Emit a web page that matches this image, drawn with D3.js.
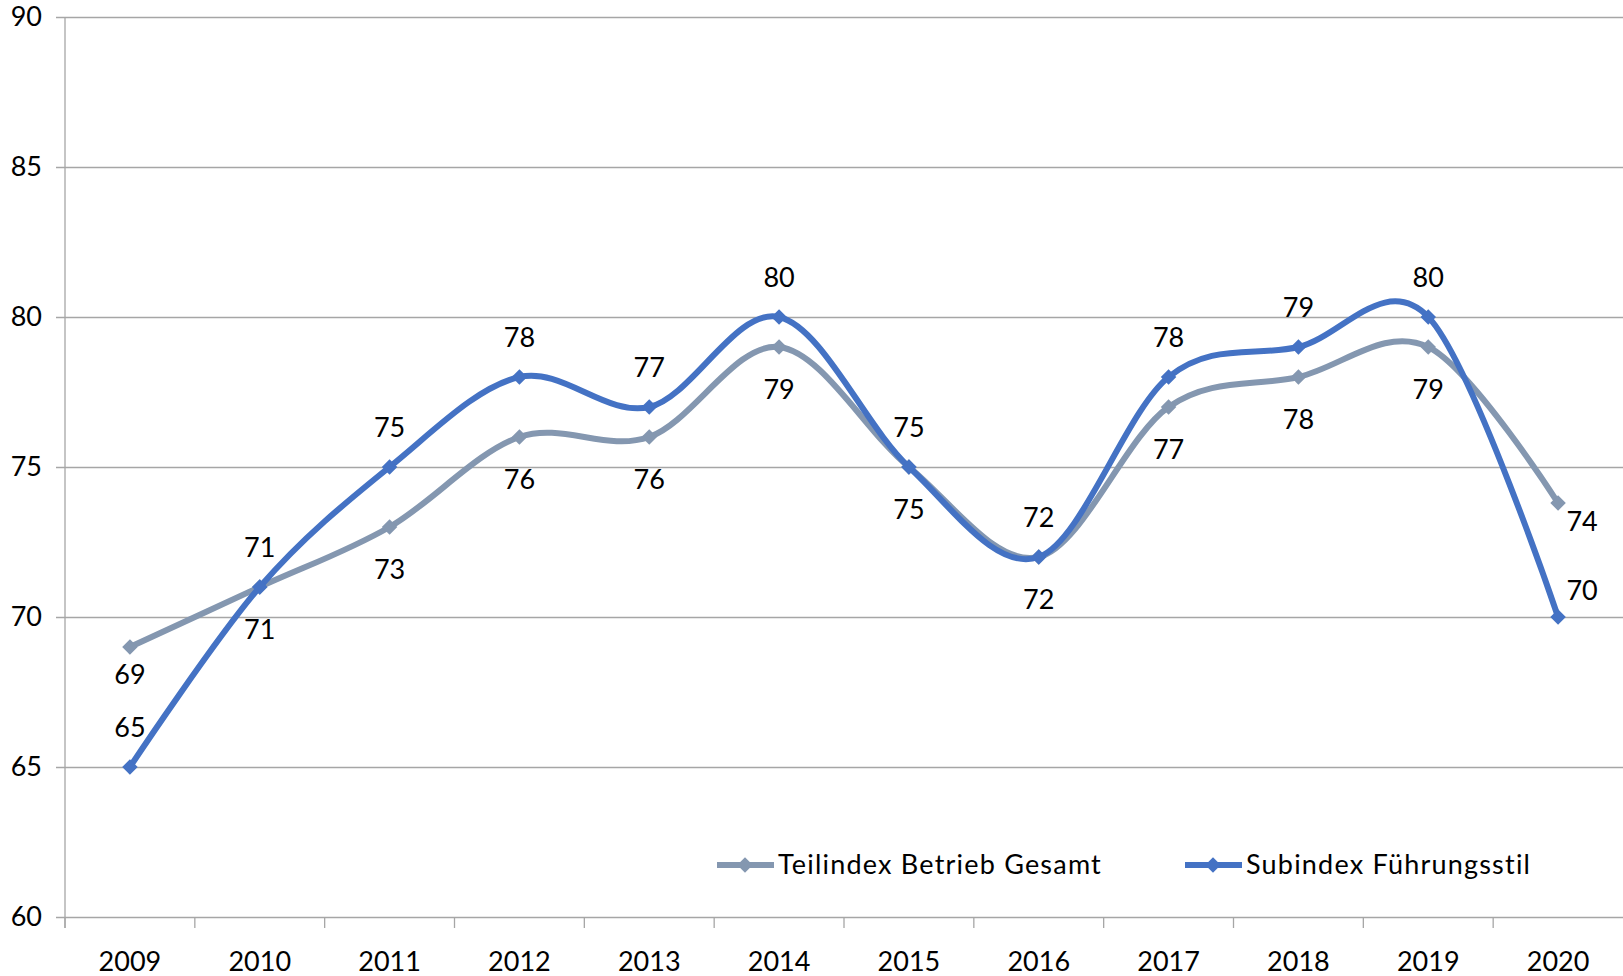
<!DOCTYPE html>
<html>
<head>
<meta charset="utf-8">
<script src="https://cdn.jsdelivr.net/npm/d3@7"></script>
<style>
  body { margin: 0; background: #fff; }
  text { font-family: Lato, "Open Sans", sans-serif; fill: #000; }
</style>
</head>
<body>
<script>
// chart values
const years = ["2009", "2010", "2011", "2012", "2013", "2014", "2015", "2016", "2017", "2018", "2019", "2020"];
const teilindex = [69, 71, 73, 76, 76, 79, 75, 72, 77, 78, 79, 73.8];
const subindex = [65, 71, 75, 78, 77, 80, 75, 72, 78, 79, 80, 70];
const yTicks = [60, 65, 70, 75, 80, 85, 90];

const series = [
    { name: "Teilindex Betrieb Gesamt", values: teilindex, color: "#8497b0", labelPos: "below" },
    { name: "Subindex Führungsstil", values: subindex, color: "#4472c4", labelPos: "above" }
];

const margin = { top: 17, right: 0, bottom: 59, left: 65 };
const W = 1623, H = 976;
const width = W - margin.left - margin.right;
const height = H - margin.top - margin.bottom;
const fontSize = "27px";

const svg = d3.select("body")
    .append("svg")
    .attr("width", W)
    .attr("height", H)
    .append("g")
    .attr("transform", `translate(${margin.left}, ${margin.top})`);

const x = d3.scaleBand()
    .domain(years)
    .range([0, width])
    .padding(0);

const y = d3.scaleLinear()
    .domain([60, 90])
    .range([height, 0]);

// y axis with gridlines
const yAxis = svg.append("g")
    .call(d3.axisLeft(y).tickValues(yTicks).tickSize(-width).tickPadding(23));
yAxis.select(".domain").remove();
yAxis.selectAll("line")
    .attr("x1", -9)
    .attr("stroke", "#a6a6a6")
    .attr("stroke-width", 1.3);
yAxis.selectAll("text")
    .style("font-size", fontSize);

// y axis line
svg.append("line")
    .attr("x1", 0).attr("x2", 0)
    .attr("y1", 0).attr("y2", height + 11)
    .attr("stroke", "#a6a6a6")
    .attr("stroke-width", 1.3);

// x axis
const xAxis = svg.append("g")
    .attr("transform", `translate(0, ${height})`)
    .call(d3.axisBottom(x).tickSize(0).tickPadding(35));
xAxis.select(".domain").remove();
xAxis.selectAll("text")
    .style("font-size", fontSize);

svg.append("g")
    .selectAll("line")
    .data(years)
    .enter().append("line")
    .attr("x1", d => x(d)).attr("x2", d => x(d))
    .attr("y1", height).attr("y2", height + 11)
    .attr("stroke", "#a6a6a6")
    .attr("stroke-width", 1.3);

const line = d3.line()
    .x((d, i) => x(years[i]) + x.bandwidth() / 2)
    .y(d => y(d))
    .curve(d3.curveCatmullRom.alpha(0));

const diamond = d3.symbol().type(d3.symbolSquare).size(120);

series.forEach(s => {
    const g = svg.append("g");
    g.append("path")
        .attr("d", line(s.values))
        .attr("fill", "none")
        .attr("stroke", s.color)
        .attr("stroke-width", 6)
        .attr("stroke-linejoin", "round");

    g.selectAll(".marker")
        .data(s.values)
        .enter().append("path")
        .attr("d", diamond)
        .attr("fill", s.color)
        .attr("transform", (d, i) => `translate(${x(years[i]) + x.bandwidth() / 2}, ${y(d)}) rotate(45)`);
});

// data labels (last point is pushed right, first gray label sits closer)
series.forEach(s => {
    const last = s.values.length - 1;
    svg.append("g")
        .selectAll("text")
        .data(s.values)
        .enter().append("text")
        .attr("x", (d, i) => x(years[i]) + x.bandwidth() / 2 + (i === last ? 24 : 0))
        .attr("y", (d, i) => {
            if (s.labelPos === "above") return y(d) - (i === last ? 17 : 30);
            if (i === last) return y(d) + 28;
            if (i === 0) return y(d) + 37;
            return y(d) + 52;
        })
        .attr("text-anchor", "middle")
        .style("font-size", fontSize)
        .text(d => Math.round(d));
});

// legend
const legendX = [652, 1120];
const legend = svg.append("g")
    .attr("transform", `translate(0, ${848})`);
series.forEach((s, i) => {
    const lg = legend.append("g").attr("transform", `translate(${legendX[i]}, 0)`);
    lg.append("line")
        .attr("x1", 0).attr("x2", 57)
        .attr("y1", 0).attr("y2", 0)
        .attr("stroke", s.color)
        .attr("stroke-width", 6);
    lg.append("path")
        .attr("d", diamond)
        .attr("fill", s.color)
        .attr("transform", "translate(28, 0) rotate(45)");
    lg.append("text")
        .attr("x", 61)
        .attr("y", 0)
        .attr("dy", "0.35em")
        .style("font-size", fontSize)
        .style("letter-spacing", "1.2px")
        .text(s.name);
});
</script>
</body>
</html>
